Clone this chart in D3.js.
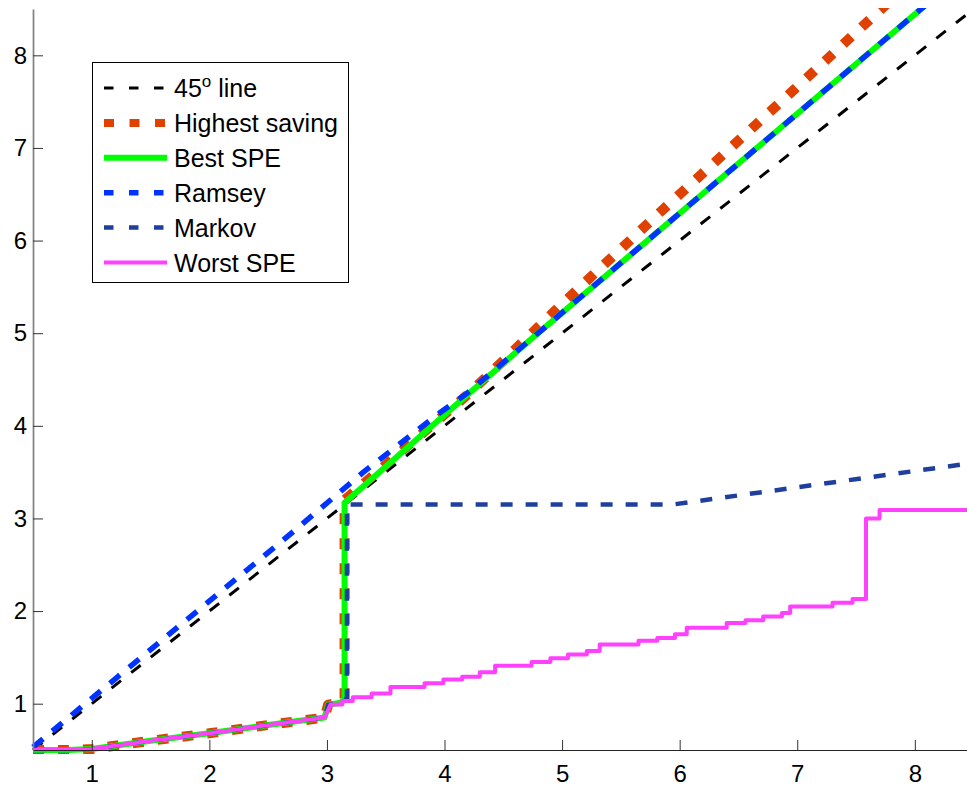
<!DOCTYPE html>
<html>
<head>
<meta charset="utf-8">
<script src="https://cdn.jsdelivr.net/npm/d3@7"></script>
<style>
  body { margin: 0; background: #fff; }
  svg { display: block; font-family: "Liberation Sans", Arial, Helvetica, sans-serif; }
</style>
</head>
<body>
<script>
// Lower branch shared by the equilibria (before the jump near x = 3.15)
const lowX = [0.5, 0.8, 1.0, 1.5, 2.0, 2.5, 2.98];
const lowY = [0.5, 0.5, 0.51, 0.6, 0.68, 0.77, 0.85];

// 45 degree line
const diagX = [0.5, 8.5];
const diagY = [0.5, 8.5];

// Highest saving (continues from the lower branch)
const savingX = [3.01, 3.12, 3.15, 3.15, 4.2, 4.53, 5.02, 5.82, 6.94, 7.8];
const savingY = [0.99, 1.01, 1.06, 3.2, 4.34, 4.74, 5.34, 6.29, 7.59, 8.6];

// Best SPE (continues from the lower branch)
const bestX = [3.01, 3.12, 3.15, 3.15, 4.73, 7.01, 8.5];
const bestY = [0.99, 1.01, 1.06, 3.17, 4.93, 7.38, 8.98];

// Ramsey
const ramseyX = [0.5, 1.22, 2.66, 3.31, 3.96, 4.2, 4.73, 7.01, 8.5];
const ramseyY = [0.53, 1.29, 2.8, 3.5, 4.14, 4.36, 4.93, 7.38, 8.98];

// Markov (continues from the lower branch)
const markovX = [3.01, 3.12, 3.17, 3.17, 5.94, 8.5];
const markovY = [0.99, 1.01, 1.06, 3.15, 3.15, 3.6];

// Worst SPE: staircase after the lower branch (x where each level starts, level)
const worstStepX = [3.03, 3.13, 3.22, 3.38, 3.54, 3.83, 3.99, 4.15, 4.3, 4.43, 4.74, 4.9, 5.05, 5.21,
  5.32, 5.65, 5.81, 5.96, 6.06, 6.4, 6.56, 6.71, 6.87, 6.94, 7.3, 7.47, 7.585, 7.7, 8.5];
const worstStepY = [0.99, 1.03, 1.07, 1.11, 1.18, 1.22, 1.26, 1.29, 1.34, 1.41, 1.45, 1.49, 1.53, 1.57,
  1.64, 1.68, 1.71, 1.75, 1.82, 1.87, 1.9, 1.94, 1.98, 2.05, 2.09, 2.13, 3.0, 3.09, 3.09];

const xTicks = [1, 2, 3, 4, 5, 6, 7, 8];
const yTicks = [1, 2, 3, 4, 5, 6, 7, 8];

const width = 967;
const height = 790;

const x = d3.scaleLinear().domain([0.5, 8.5]).range([33, 973.6]);
const y = d3.scaleLinear().domain([0.5, 8.5]).range([750, 9]);

const zip = (xs, ys) => xs.map((v, i) => [v, ys[i]]);
function steps(xs, ys) {
  const pts = [];
  xs.forEach((v, i) => {
    if (i > 0) pts.push([v, ys[i - 1]]);
    pts.push([v, ys[i]]);
  });
  return pts;
}

const lower = zip(lowX, lowY);
const series = [
  { name: "45o line", pts: zip(diagX, diagY), color: "#000000", w: 3, dash: "12,13" },
  { name: "Highest saving", pts: lower.concat(zip(savingX, savingY)), color: "#e04000", w: 10, dash: "11,14" },
  { name: "Best SPE", pts: lower.concat(zip(bestX, bestY)), color: "#00ff00", w: 6, dash: null },
  { name: "Ramsey", pts: zip(ramseyX, ramseyY), color: "#0033ff", w: 5.5, dash: "13,12" },
  { name: "Markov", pts: lower.concat(zip(markovX, markovY)), color: "#1f3f9f", w: 4.5, dash: "12,13" },
  { name: "Worst SPE", pts: lower.concat(steps(worstStepX, worstStepY)), color: "#ff40ff", w: 4, dash: null }
];

const svg = d3.select("body")
  .append("svg")
  .attr("width", width)
  .attr("height", height);

svg.append("defs").append("clipPath")
  .attr("id", "plot")
  .append("rect")
  .attr("x", 30).attr("y", 8)
  .attr("width", 950).attr("height", 746);

const line = d3.line()
  .x(d => x(d[0]))
  .y(d => y(d[1]));

svg.append("g")
  .attr("clip-path", "url(#plot)")
  .selectAll("path")
  .data(series)
  .enter()
  .append("path")
  .attr("d", d => line(d.pts))
  .attr("fill", "none")
  .attr("stroke", d => d.color)
  .attr("stroke-width", d => d.w)
  .attr("stroke-dasharray", d => d.dash)
  .attr("stroke-linejoin", "round");

// Axes (ticks point inward, MATLAB style)
const xAxis = svg.append("g")
  .attr("transform", `translate(0, ${y(0.5)})`)
  .call(d3.axisBottom(x).tickValues(xTicks).tickSizeInner(-10).tickSizeOuter(0).tickPadding(15));

const yAxis = svg.append("g")
  .attr("transform", `translate(${x(0.5)}, 0)`)
  .call(d3.axisLeft(y).tickValues(yTicks).tickSizeInner(-10).tickSizeOuter(0).tickPadding(6));

xAxis.select(".domain").attr("stroke", "#222").attr("stroke-width", 1.2);
yAxis.select(".domain").attr("stroke", "#808080").attr("stroke-width", 1.7);
svg.selectAll(".tick line").attr("stroke", "#333");
svg.selectAll(".tick text")
  .attr("fill", "#000")
  .style("font-size", "24px")
  .style("font-family", "\"Liberation Sans\", Arial, sans-serif");

// Legend
const legend = svg.append("g");
legend.append("rect")
  .attr("x", 92.5).attr("y", 62.5)
  .attr("width", 256).attr("height", 220)
  .attr("fill", "#fff")
  .attr("stroke", "#000")
  .attr("stroke-width", 1);

const rows = legend.selectAll("g.row")
  .data(series)
  .enter()
  .append("g")
  .attr("class", "row")
  .attr("transform", (d, i) => `translate(0, ${88 + i * 34.9})`);

rows.append("line")
  .attr("x1", 104).attr("x2", 167)
  .attr("stroke", d => d.color)
  .attr("stroke-width", d => Math.min(d.w, 8))
  .attr("stroke-dasharray", d => d.dash ? (d.w > 8 ? "10,15.5" : "9.5,15.5") : null);

rows.append("text")
  .attr("x", 174)
  .attr("dy", "0.36em")
  .style("font-size", "25px")
  .each(function (d) {
    const t = d3.select(this);
    if (d.name === "45o line") {
      t.append("tspan").text("45");
      t.append("tspan").attr("dy", -10).style("font-size", "17px").text("o");
      t.append("tspan").attr("dy", 10).text(" line");
    } else {
      t.text(d.name);
    }
  });
</script>
</body>
</html>
